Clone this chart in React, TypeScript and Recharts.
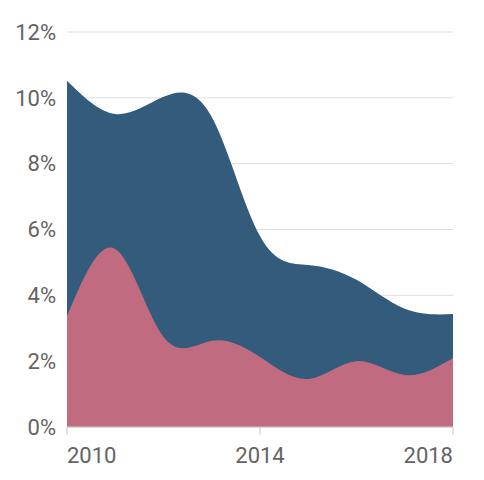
import { AreaChart, Area, XAxis, YAxis, CartesianGrid } from 'recharts';

const years = [2010, 2011, 2012, 2013, 2014, 2015, 2016, 2017, 2018];
const total = [10.52, 9.51, 10.03, 9.42, 5.8, 4.92, 4.47, 3.59, 3.43];
const lower = [3.37, 5.41, 2.74, 2.62, 2.13, 1.46, 2.0, 1.58, 2.1];
const yTicks = [0, 2, 4, 6, 8, 10, 12];
const xTicks = [2010, 2014, 2018];

const data = years.map((year, i) => ({ year, total: total[i], lower: lower[i] }));

const XTick = (props: any) => {
  const { x, y, payload, index } = props;
  const anchor = index === 0 ? 'start' : index === xTicks.length - 1 ? 'end' : 'middle';
  return (
    <text x={x} y={y} dy="0.71em" textAnchor={anchor} fill="#636363" fontSize={22}>
      {payload.value}
    </text>
  );
};

export default function App() {
  return (
    <div style={{ position: 'absolute', left: 0, top: 0, fontFamily: 'Roboto' }}>
      <AreaChart
        width={484}
        height={480}
        data={data}
        margin={{ top: 32, right: 31, left: 0, bottom: 0 }}
      >
        <CartesianGrid vertical={false} stroke="#dedede" />
        <XAxis
          type="number"
          dataKey="year"
          domain={[2010, 2018]}
          ticks={xTicks}
          height={53}
          stroke="#c8c8c8"
          tickSize={8}
          tickMargin={12}
          tick={<XTick />}
        />
        <YAxis
          domain={[0, 12]}
          ticks={yTicks}
          width={67}
          axisLine={false}
          tickLine={false}
          tickSize={0}
          tickMargin={11}
          tickFormatter={(v: number) => `${v}%`}
          tick={{ fill: '#636363', fontSize: 22 }}
        />
        <Area
          type="natural"
          dataKey="total"
          stroke="none"
          fill="#335b7b"
          fillOpacity={1}
          isAnimationActive={false}
        />
        <Area
          type="natural"
          dataKey="lower"
          stroke="none"
          fill="#c16b81"
          fillOpacity={1}
          isAnimationActive={false}
        />
      </AreaChart>
    </div>
  );
}
